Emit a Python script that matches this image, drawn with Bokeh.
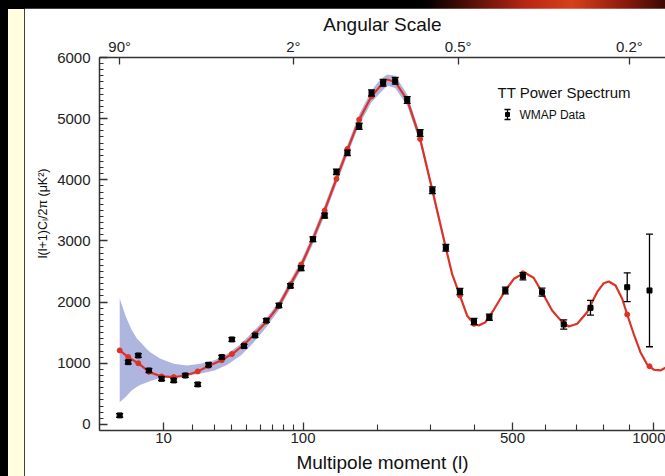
import numpy as np
from bokeh.plotting import figure
from bokeh.models import (ColumnDataSource, Range1d, LinearAxis, FixedTicker,
                          SingleIntervalTicker, CustomJSTickFormatter, Whisker,
                          TeeHead, Label, Title)
from bokeh.embed import file_html
from bokeh.resources import INLINE

# ---------------- data ----------------
# WMAP binned TT data: multipole, D_l = l(l+1)C_l/2pi [uK^2], error
data_l = [2, 3, 4.5, 6.5, 9.5, 13, 17, 22, 27, 34, 40, 48, 56, 65, 76, 87, 98,
          111, 125, 140, 155, 172, 191, 210, 231, 253, 278, 303, 332, 364, 398,
          437, 480, 530, 588, 658, 751, 891, 983]
data_D = [147, 1018, 1127, 882, 746, 719, 800, 654, 975, 1100, 1389, 1280, 1454,
          1699, 1944, 2266, 2554, 3028, 3415, 4129, 4440, 4875, 5420, 5588, 5621,
          5306, 4766, 3829, 2887, 2173, 1683, 1753, 2190, 2423, 2162, 1634, 1907,
          2243, 2190]
data_err = [30, 30, 30, 30, 30, 30, 30, 30, 30, 30, 30, 30, 30, 30, 35, 35, 40,
            40, 40, 45, 45, 50, 50, 55, 55, 55, 55, 55, 55, 50, 50, 50, 55, 60, 65,
            75, 120, 235, 920]

# best-fit model curve
model_l = [2, 3, 4.6, 6.6, 9.5, 13, 17, 22, 27, 33.5, 41, 48.5, 56, 65.5, 76, 87,
           98.4, 111, 124.8, 140.1, 155.5, 172.1, 191, 205, 217, 231, 253, 278,
           303, 332, 346, 364, 381, 397.5, 410, 427, 448.6, 480, 504, 535, 562,
           588, 620, 653, 675, 704, 739, 775, 800, 819, 845, 871, 891, 917, 945,
           973, 1001, 1030, 1052]
model_D = [1210, 1100, 992, 855, 784, 773, 800, 866, 953, 1046, 1165, 1319, 1482,
           1688, 1944, 2290, 2614, 3030, 3497, 4015, 4505, 4984, 5365, 5530, 5640,
           5600, 5306, 4668, 3829, 2887, 2462, 2108, 1781, 1645, 1618, 1672, 1874,
           2190, 2381, 2479, 2397, 2162, 1863, 1672, 1601, 1645, 1835, 2162, 2309,
           2337, 2271, 2054, 1797, 1482, 1181, 980, 894, 882, 926]

# binned model values (red dots), at the data multipoles
mdot_D = [1210, 1100, 1000, 860, 784, 773, 800, 866, 953, 1050, 1150, 1310, 1482,
          1680, 1944, 2290, 2614, 3030, 3497, 4015, 4505, 4984, 5365, 5560, 5600,
          5306, 4668, 3829, 2887, 2108, 1645, 1760, 2190, 2470, 2162, 1660, 1900,
          1797, 950]

# cosmic-variance band
band_l = [2, 2.7, 3.5, 4.3, 4.9, 6.2, 6.8, 9.2, 13, 17.7, 23, 30, 37, 46, 55,
          65.5, 76, 87, 98.4, 111, 124.8, 140.1, 155.5, 172.1, 191, 205, 217, 231,
          253, 278, 303, 332]
band_hi = [2060, 1760, 1540, 1400, 1345, 1220, 1181, 1074, 992, 964, 990, 1050,
           1150, 1320, 1530, 1750, 2010, 2360, 2690, 3110, 3580, 4100, 4590, 5070,
           5460, 5640, 5720, 5700, 5400, 4750, 3900, 2950]
band_lo = [364, 450, 560, 615, 650, 691, 710, 763, 790, 800, 828, 880, 970, 1130,
           1340, 1600, 1870, 2220, 2540, 2950, 3410, 3930, 4420, 4900, 5270, 5420,
           5540, 5500, 5210, 4590, 3760, 2830]

# axes
x_limits_l = [0.52, 1052.4]
y_limits = [-100, 6000]
l_major = [10, 100, 500, 1000]
l_major_labels = ["10", "100", "500", "1000"]
l_minor = [20, 30, 40, 50, 60, 70, 80, 90, 200, 300, 400, 600, 700, 800, 900]
angle_deg = [90, 2, 0.5, 0.2]
angle_labels = ["90°", "2°", "0.5°", "0.2°"]

# ---------------- helpers ----------------
POW = 0.4  # the multipole axis of the original is linear in l^0.4


def xs(l):
    return list(np.asarray(l, dtype=float) ** POW)


FONT = "Liberation Sans"
AXC = "#333333"
RED = "#dd3226"
BAND = "#aeb6e0"
CREAM = "#FFFFE0"

W, H = 641, 468
ML, MT, MB = 75, 49, 46

p = figure(width=W, height=H, output_backend="svg", toolbar_location=None,
           x_range=Range1d(*xs(x_limits_l)), y_range=Range1d(*y_limits),
           min_border_left=ML, min_border_right=0, min_border_top=MT,
           min_border_bottom=MB, outline_line_color=None,
           background_fill_color="white", border_fill_color="white")
p.margin = (8, 0, 0, 24)
p.xgrid.visible = False
p.ygrid.visible = False


def fmt(vals, labels):
    return CustomJSTickFormatter(args=dict(vals=vals, labels=labels), code="""
        for (let i = 0; i < vals.length; i++) {
            if (Math.abs(vals[i] - tick) < 1e-6) { return labels[i]; }
        }
        return "";
    """)


def style_axis(ax, tick_in, minor_in, standoff, label_standoff, label_size):
    ax.axis_line_color = AXC
    ax.axis_line_width = 1.5
    ax.major_tick_line_color = AXC
    ax.major_tick_line_width = 1.3
    ax.minor_tick_line_color = AXC
    ax.minor_tick_line_width = 1.1
    ax.major_tick_in = tick_in
    ax.major_tick_out = 0
    ax.minor_tick_in = minor_in
    ax.minor_tick_out = 0
    ax.major_label_text_font = FONT
    ax.major_label_text_font_size = "15px"
    ax.major_label_text_color = "#222222"
    ax.major_label_standoff = standoff
    ax.axis_label_text_font = FONT
    ax.axis_label_text_font_size = label_size
    ax.axis_label_text_font_style = "normal"
    ax.axis_label_text_color = "#111111"
    ax.axis_label_standoff = label_standoff


# bottom axis: multipole
xa = p.xaxis[0]
xa.ticker = FixedTicker(ticks=xs(l_major), minor_ticks=xs(l_minor))
xa.formatter = fmt(xs(l_major), l_major_labels)
xa.axis_label = "Multipole moment (l)"
style_axis(xa, 8, 6, 2, 6, "19px")

# left axis; its title is a left-side Title, its top end 111 px below the frame top
ya = p.yaxis[0]
ya.ticker = SingleIntervalTicker(interval=1000, num_minor_ticks=10)
style_axis(ya, 8, 4, 9, 7, "12px")
p.add_layout(Title(text="l(l+1)Cₗ/2π (μK²)", align="right", offset=111,
                   vertical_align="top",
                   text_font=FONT, text_font_size="12.5px",
                   text_font_style="normal", text_color="#111111",
                   standoff=5), "left")

# top axis: angular scale
ang_l = [180.0 / a for a in angle_deg]
ta = LinearAxis(ticker=FixedTicker(ticks=xs(ang_l), minor_ticks=[]),
                formatter=fmt(xs(ang_l), angle_labels),
                axis_label="Angular Scale")
style_axis(ta, 7, 0, 3, 0, "19px")
p.add_layout(ta, "above")

# ---------------- glyphs ----------------
p.varea(x=xs(band_l), y1=band_lo, y2=band_hi, fill_color=BAND, fill_alpha=1.0)
p.line(xs(model_l), model_D, line_color=RED, line_width=2.2)
p.scatter(xs(data_l), mdot_D, marker="circle", size=5, color=RED)

src = ColumnDataSource(dict(
    x=xs(data_l), y=data_D,
    upper=[d + e for d, e in zip(data_D, data_err)],
    lower=[d - e for d, e in zip(data_D, data_err)]))
wh = Whisker(base="x", upper="upper", lower="lower", source=src,
             line_color="black", line_width=1.3, level="overlay",
             upper_head=TeeHead(size=7, line_color="black", line_width=1.3),
             lower_head=TeeHead(size=7, line_color="black", line_width=1.3))
p.add_layout(wh)
p.scatter("x", "y", source=src, marker="square", size=5, color="black")

# ---------------- legend (placed from page pixels) ----------------
U0, U1 = xs(x_limits_l)
FRAME_L, FRAME_T, FRAME_W, FRAME_H = 99, 57, 566, 373


def page_x(xp):
    return U0 + (xp - FRAME_L) * (U1 - U0) / FRAME_W


def page_y(yp):
    return y_limits[1] - (yp - FRAME_T) * (y_limits[1] - y_limits[0]) / FRAME_H


p.add_layout(Label(x=page_x(497), y=page_y(92), text="TT Power Spectrum",
                   text_font=FONT, text_font_size="15px", text_color="#111111",
                   text_baseline="middle", text_align="left"))
p.add_layout(Label(x=page_x(519), y=page_y(114), text="WMAP Data",
                   text_font=FONT, text_font_size="12px", text_color="#111111",
                   text_baseline="middle", text_align="left"))
leg_src = ColumnDataSource(dict(x=[page_x(507)], y=[page_y(114)],
                                upper=[page_y(109)], lower=[page_y(119)]))
p.add_layout(Whisker(base="x", upper="upper", lower="lower", source=leg_src,
                     line_color="black", line_width=1.3, level="overlay",
                     upper_head=TeeHead(size=6, line_color="black", line_width=1.3),
                     lower_head=TeeHead(size=6, line_color="black", line_width=1.3)))
p.scatter("x", "y", source=leg_src, marker="square", size=4, color="black")

# ---------------- page ----------------
html = file_html(p, INLINE, title="WMAP TT Power Spectrum")
css = ("<style>html,body{overflow:hidden;}"
       "body{background:"
       "linear-gradient(" + CREAM + "," + CREAM + ") 8px 9px / 16px 100% no-repeat,"
       "linear-gradient(to right,#000 0,#000 64%,#4a0c06 70%,"
       "#b82614 79%,#d6401c 86%,#8a1a0c 94%,#3a0804 100%);}</style>")
html = html.replace("</head>", css + "</head>", 1)
open("out.html", "w").write(html)
